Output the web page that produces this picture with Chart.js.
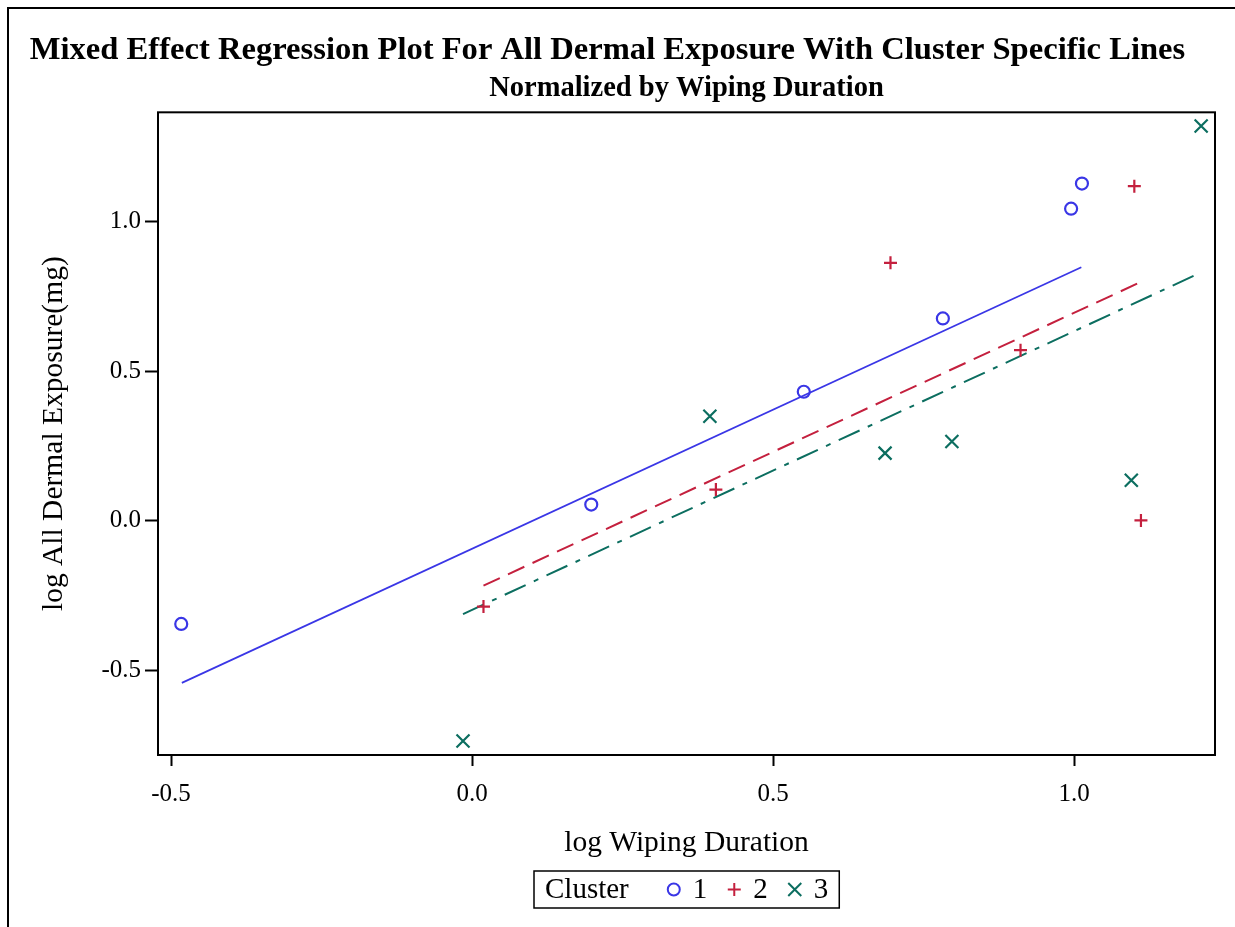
<!DOCTYPE html>
<html>
<head>
<meta charset="utf-8">
<script src="https://cdn.jsdelivr.net/npm/chart.js@4.4.1/dist/chart.umd.min.js"></script>
<style>
  html, body { margin: 0; padding: 0; background: #fff; }
  #wrap { width: 1235px; height: 927px; }
</style>
</head>
<body>
<div id="wrap"><canvas id="mixedChart"></canvas></div>
<script>
const clusterNames = ['1', '2', '3']
const colors = ['#3a36e6', '#c4203e', '#0c6e60']

// observed points per cluster (log wiping duration, log dermal exposure)
const c1X = [-0.483, 0.198, 0.551, 0.782, 0.995, 1.013]
const c1Y = [-0.345, 0.054, 0.431, 0.676, 1.043, 1.127]
const c2X = [0.019, 0.405, 0.695, 0.911, 1.100, 1.111]
const c2Y = [-0.287, 0.104, 0.862, 0.570, 1.118, 0.001]
const c3X = [-0.015, 0.395, 0.686, 0.797, 1.095, 1.211]
const c3Y = [-0.736, 0.349, 0.226, 0.265, 0.135, 1.319]

// cluster specific fitted lines (end points)
const fit1X = [-0.482, 1.012]
const fit1Y = [-0.542, 0.847]
const fit2X = [0.019, 1.112]
const fit2Y = [-0.217, 0.799]
const fit3X = [-0.015, 1.211]
const fit3Y = [-0.312, 0.830]

const xTicks = [-0.5, 0.0, 0.5, 1.0]
const yTicks = [-0.5, 0.0, 0.5, 1.0]

const pts = (xs, ys) => xs.map((x, i) => ({ x: x, y: ys[i] }))
const serif = '"Liberation Serif", "Times New Roman", serif'

const pointStyles = ['circle', 'cross', 'crossRot']
const pointSizes = [6, 6.5, 9.2]

// page frame + plot box
const framePlugin = {
	id: 'framePlugin',
	beforeDraw(chart) {
		const ctx = chart.ctx
		ctx.save()
		ctx.strokeStyle = '#000'
		ctx.lineWidth = 2
		ctx.beginPath()
		ctx.moveTo(8, chart.height)
		ctx.lineTo(8, 8)
		ctx.lineTo(chart.width, 8)
		ctx.stroke()
		ctx.restore()
	},
	afterDraw(chart) {
		const { ctx, chartArea } = chart
		ctx.save()
		ctx.strokeStyle = '#000'
		ctx.lineWidth = 2
		ctx.strokeRect(chartArea.left, chartArea.top, chartArea.right - chartArea.left, chartArea.bottom - chartArea.top)
		ctx.restore()
	},
}

const drawMarker = (ctx, style, x, y, r) => {
	ctx.beginPath()
	if (style === 'circle') {
		ctx.arc(x, y, r, 0, Math.PI * 2)
	} else if (style === 'cross') {
		ctx.moveTo(x - r, y)
		ctx.lineTo(x + r, y)
		ctx.moveTo(x, y - r)
		ctx.lineTo(x, y + r)
	} else {
		const d = r * Math.SQRT1_2
		ctx.moveTo(x - d, y - d)
		ctx.lineTo(x + d, y + d)
		ctx.moveTo(x + d, y - d)
		ctx.lineTo(x - d, y + d)
	}
	ctx.stroke()
}

// "Cluster  o 1  + 2  x 3" box under the x axis title
const clusterLegend = {
	id: 'clusterLegend',
	afterDraw(chart) {
		const { ctx, chartArea, scales } = chart
		ctx.save()
		ctx.font = '29px ' + serif
		const head = 'Cluster'
		const pad = 11
		const headGap = 38
		const markW = 14
		const markGap = 12
		const itemGap = 20
		let w = pad + ctx.measureText(head).width + headGap
		clusterNames.forEach((n, i) => {
			w += markW + markGap + ctx.measureText(n).width + (i < clusterNames.length - 1 ? itemGap : 0)
		})
		w += pad
		const h = 37
		const cx = (chartArea.left + chartArea.right) / 2
		const left = Math.round(cx - w / 2)
		const top = scales.x.bottom + 6
		ctx.strokeStyle = '#000'
		ctx.lineWidth = 1.5
		ctx.strokeRect(left, top, w, h)
		ctx.fillStyle = '#000'
		ctx.textBaseline = 'middle'
		ctx.textAlign = 'left'
		const my = top + h / 2 + 1
		let x = left + pad
		ctx.fillText(head, x, my)
		x += ctx.measureText(head).width + headGap
		clusterNames.forEach((n, i) => {
			ctx.strokeStyle = colors[i]
			ctx.lineWidth = 2
			drawMarker(ctx, pointStyles[i], x + markW / 2, my - 1, pointSizes[i])
			x += markW + markGap
			ctx.fillStyle = '#000'
			ctx.fillText(n, x, my)
			x += ctx.measureText(n).width + itemGap
		})
		ctx.restore()
	},
}

const scatterSet = (label, xs, ys, i) => ({
	label: label,
	data: pts(xs, ys),
	pointStyle: pointStyles[i],
	pointRadius: pointSizes[i],
	pointBorderWidth: 2.2,
	pointBorderColor: colors[i],
	pointBackgroundColor: 'rgba(0,0,0,0)',
	showLine: false,
})

const lineSet = (label, xs, ys, i, dash) => ({
	label: label,
	data: pts(xs, ys),
	showLine: true,
	borderColor: colors[i],
	borderWidth: i === 0 ? 1.7 : 2,
	borderDash: dash,
	pointRadius: 0,
	fill: false,
})

const ctx = document.getElementById('mixedChart').getContext('2d')
const myChart = new Chart(ctx, {
	type: 'scatter',
	data: {
		datasets: [
			scatterSet('1', c1X, c1Y, 0),
			scatterSet('2', c2X, c2Y, 1),
			scatterSet('3', c3X, c3Y, 2),
			lineSet('fit 1', fit1X, fit1Y, 0, []),
			lineSet('fit 2', fit2X, fit2Y, 1, [18, 9]),
			lineSet('fit 3', fit3X, fit3Y, 2, [23, 9, 5, 9]),
		],
	},
	options: {
		responsive: true,
		maintainAspectRatio: false,
		animation: false,
		layout: {
			padding: { left: 0, right: 20, top: 0, bottom: 62 },
		},
		plugins: {
			legend: { display: false },
			tooltip: { enabled: false },
			title: {
				display: true,
				text: 'Mixed Effect Regression Plot For All Dermal Exposure With Cluster Specific Lines',
				color: '#000',
				font: { family: serif, size: 32.6, weight: 'bold' },
				padding: { top: 31, bottom: 1 },
			},
			subtitle: {
				display: true,
				fullSize: false,
				text: 'Normalized by Wiping Duration',
				color: '#000',
				font: { family: serif, size: 28.5, weight: 'bold' },
				padding: { top: 0, bottom: 7 },
			},
		},
		scales: {
			x: {
				type: 'linear',
				min: -0.5216,
				max: 1.234,
				afterBuildTicks: scale => {
					scale.ticks = xTicks.map(v => ({ value: v }))
				},
				afterFit: scale => {
					scale.height = 110
				},
				grid: { drawOnChartArea: false, drawTicks: true, tickLength: 11, tickColor: '#000', tickWidth: 2 },
				border: { display: false },
				ticks: {
					color: '#000',
					font: { family: serif, size: 25 },
					padding: 13,
					callback: v => Number(v).toFixed(1),
				},
				title: {
					display: true,
					text: 'log Wiping Duration',
					color: '#000',
					font: { family: serif, size: 29.5 },
					padding: { top: 0, bottom: 4 },
				},
			},
			y: {
				type: 'linear',
				min: -0.783,
				max: 1.365,
				afterBuildTicks: scale => {
					scale.ticks = yTicks.map(v => ({ value: v }))
				},
				afterFit: scale => {
					scale.width = 158
				},
				grid: { drawOnChartArea: false, drawTicks: true, tickLength: 13, tickColor: '#000', tickWidth: 2 },
				border: { display: false },
				ticks: {
					color: '#000',
					font: { family: serif, size: 25 },
					padding: 4,
					callback: v => Number(v).toFixed(1),
				},
				title: {
					display: true,
					text: 'log All Dermal Exposure(mg)',
					color: '#000',
					font: { family: serif, size: 29.5 },
					padding: { top: 37, bottom: 0 },
				},
			},
		},
	},
	plugins: [framePlugin, clusterLegend],
})
</script>
</body>
</html>
